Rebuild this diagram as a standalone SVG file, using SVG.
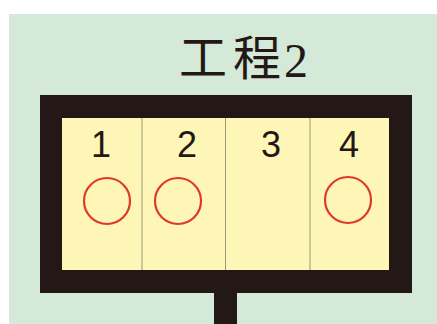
<svg xmlns="http://www.w3.org/2000/svg" width="437" height="324" viewBox="0 0 437 324">
<style>
.num{font-family:"Liberation Sans",Arial,sans-serif;font-size:36px;fill:#231815;text-anchor:middle}
.mark{fill:none;stroke:#e0382a;stroke-width:2.2}
.div{stroke:#9c9676;stroke-width:1}
.cjk{font-family:"Noto Sans CJK JP","Noto Sans CJK SC",sans-serif;font-size:48px;fill:#231815}
.ser{font-family:"Liberation Serif","DejaVu Serif",serif;font-size:48px;fill:#231815}
</style>
<rect x="0" y="0" width="437" height="324" fill="#ffffff"/>
<rect x="9" y="14" width="428" height="310" fill="#d4e9d8"/>
<g id="title">
<text class="cjk" x="179" y="75">工</text>
<text class="cjk" x="233" y="75">程</text>
<text class="ser" x="284" y="77">2</text>
</g>
<g id="post"><rect x="214" y="290" width="23" height="34" fill="#231815"/></g>
<g id="board">
<rect x="40" y="95" width="372" height="198" fill="#231815"/>
<rect x="62" y="118" width="327" height="152" fill="#fef6b6"/>
<line class="div" x1="142" y1="118" x2="142" y2="270"/>
<line class="div" x1="225.5" y1="118" x2="225.5" y2="270"/>
<line class="div" x1="310" y1="118" x2="310" y2="270"/>
</g>
<g id="slot1"><text class="num" x="101" y="157">1</text><circle class="mark" cx="107" cy="201" r="23"/></g>
<g id="slot2"><text class="num" x="187" y="157">2</text><circle class="mark" cx="178" cy="201" r="23"/></g>
<g id="slot3"><text class="num" x="271" y="157">3</text></g>
<g id="slot4"><text class="num" x="349" y="157">4</text><circle class="mark" cx="348" cy="200" r="23"/></g>
</svg>
